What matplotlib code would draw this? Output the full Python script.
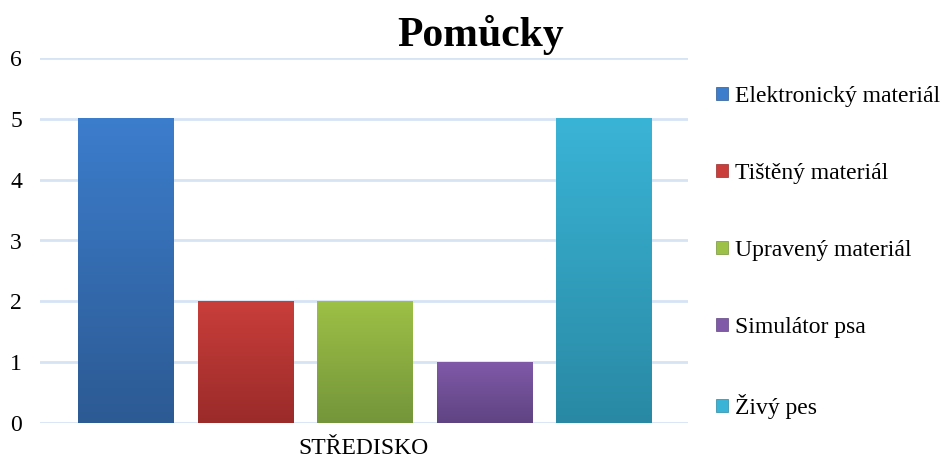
import numpy as np
import matplotlib.pyplot as plt
from matplotlib.colors import LinearSegmentedColormap
from matplotlib.patches import Patch

plt.rcParams['font.family'] = ['Liberation Serif', 'DejaVu Serif']

categories = ["Elektronický materiál", "Tištěný materiál", "Upravený materiál",
              "Simulátor psa", "Živý pes"]
values = [5, 2, 2, 1, 5]
top_colors = ["#3C7DCC", "#C93E3B", "#9DC046", "#8059A8", "#3AB4D6"]
bottom_colors = ["#2C5A93", "#9A2B29", "#74953A", "#5F4482", "#2989A4"]
x_label = "STŘEDISKO"
title = "Pomůcky"

fig = plt.figure(figsize=(9.44, 4.61), dpi=100)
ax = fig.add_axes([40 / 944, 1 - 423 / 461, 648 / 944, 365 / 461])

width = 0.8
x = np.arange(len(values))
for i, (v, ct, cb) in enumerate(zip(values, top_colors, bottom_colors)):
    cmap = LinearSegmentedColormap.from_list(f"g{i}", [cb, ct])
    grad = np.linspace(0, 1, 256).reshape(-1, 1)
    ax.imshow(grad, cmap=cmap, origin="lower", aspect="auto",
              extent=(x[i] - width / 2, x[i] + width / 2, 0, v), zorder=3)

ax.set_xlim(-0.72, 4.70)
ax.set_ylim(0, 6)
ax.set_yticks(range(0, 7))
ax.set_xticks([])
ax.grid(axis="y", color="#D6E3F4", linewidth=2, zorder=0)
ax.set_axisbelow(True)
for s in ax.spines.values():
    s.set_visible(False)
ax.tick_params(axis="y", length=0, labelsize=17, pad=13)
ax.set_xlabel(x_label, fontsize=17, labelpad=11)

fig.text(481 / 944, 1 - 35 / 461, title, fontsize=30, fontweight="bold",
         ha="center", va="center")

handles = [Patch(facecolor=ct, edgecolor=cb, linewidth=0.5) for ct, cb in zip(top_colors, bottom_colors)]
fig.legend(handles, categories, loc="upper left", bbox_to_anchor=(716 / 944, 1 - 86 / 461),
           frameon=False, fontsize=17, labelspacing=2.37, handlelength=0.5,
           handleheight=0.5, handletextpad=0.3, borderaxespad=0, borderpad=0)

fig.savefig("out.png", dpi=100)
